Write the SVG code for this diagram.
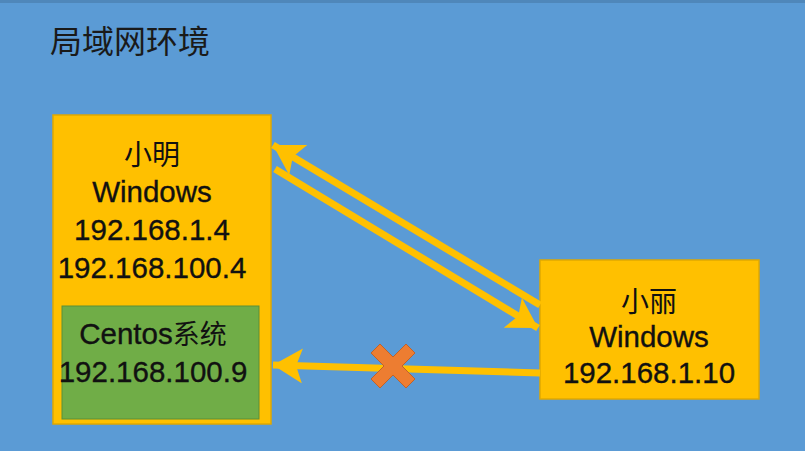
<svg xmlns="http://www.w3.org/2000/svg" width="805" height="451" viewBox="0 0 805 451">
<defs>
<style>
.t{font-family:"Liberation Sans","Noto Sans CJK SC",sans-serif;fill:#111;stroke:#111;stroke-width:0.35;text-anchor:middle;font-size:29.5px}
.cn{font-family:"Noto Sans CJK SC",sans-serif;fill:#111;text-anchor:middle;font-size:28px}
.box{fill:#FFC000;stroke:#E0A800;stroke-width:1.5}
.ln{stroke:#FFC000;stroke-width:7;fill:none}
</style>
<marker id="ah" markerWidth="5" markerHeight="5" refX="4.2" refY="2.5" orient="auto" markerUnits="strokeWidth">
<path d="M0,0 L4.2,2.5 L0,5 L0.9,2.5 Z" fill="#FFC000"/>
</marker>
</defs>
<rect x="0" y="0" width="805" height="451" fill="#5B9BD5"/>
<rect x="0" y="0" width="805" height="3" fill="#4F87BA"/>
<text x="50" y="53" style="font-family:'Noto Sans CJK SC',sans-serif;font-size:32px;fill:#1a1a1a">局域网环境</text>
<g id="xiaoming">
<rect class="box" x="53" y="115" width="218" height="309"/>
<text class="cn" x="152" y="165">小明</text>
<text class="t" x="152" y="202">Windows</text>
<text class="t" x="152" y="240">192.168.1.4</text>
<text class="t" x="152" y="278">192.168.100.4</text>
</g>
<g id="centos">
<rect x="62" y="306" width="197" height="113" fill="#70AD47" stroke="#5A8F38" stroke-width="1"/>
<text class="t" x="153" y="344">Centos<tspan style="font-family:'Noto Sans CJK SC',sans-serif;font-size:27px;stroke-width:0">系统</tspan></text>
<text class="t" x="153" y="382">192.168.100.9</text>
</g>
<g id="xiaoli">
<rect class="box" x="540" y="260" width="219" height="139"/>
<text class="cn" x="649" y="312">小丽</text>
<text class="t" x="649" y="347">Windows</text>
<text class="t" x="649" y="383">192.168.1.10</text>
</g>
<g id="connectors">
<line class="ln" x1="540" y1="305" x2="273" y2="145" marker-end="url(#ah)"/>
<line class="ln" x1="275" y1="169" x2="538" y2="328" marker-end="url(#ah)"/>
<line class="ln" x1="540" y1="373" x2="273" y2="365" marker-end="url(#ah)"/>
</g>
<g id="cross">
<path d="M0,-9 L13,-22 L22,-13 L9,0 L22,13 L13,22 L0,9 L-13,22 L-22,13 L-9,0 L-22,-13 L-13,-22 Z" transform="translate(393,366)" fill="#ED7D31" stroke="#C0622A" stroke-width="1"/>
</g>
</svg>
